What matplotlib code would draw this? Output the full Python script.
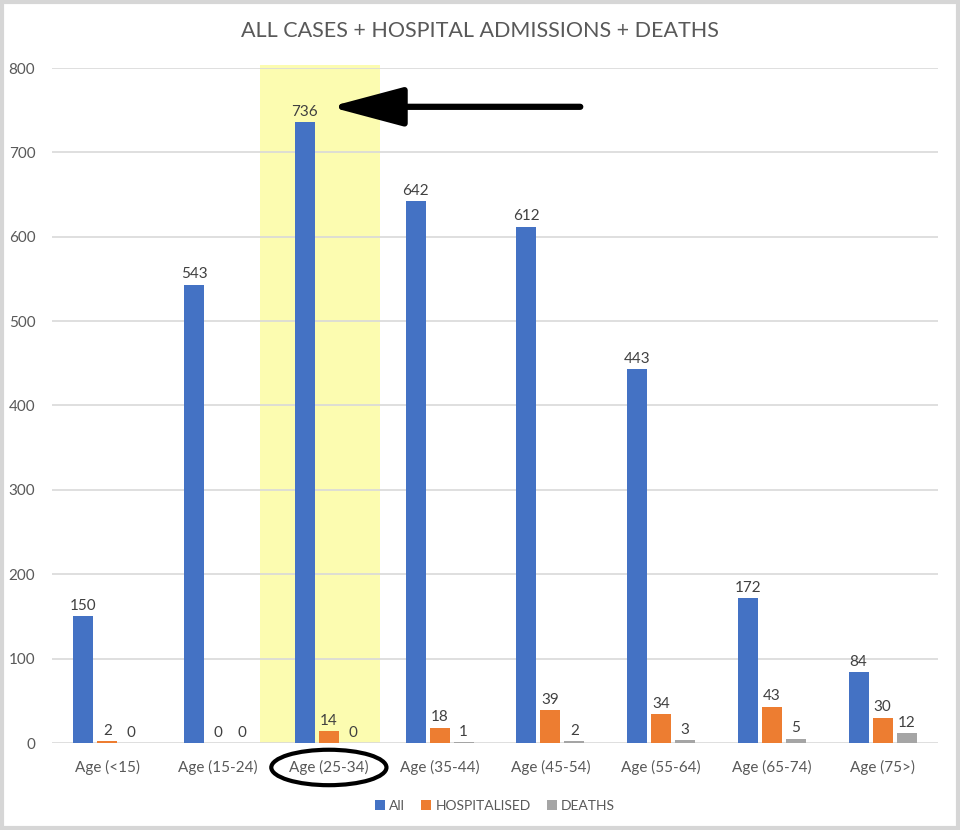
import matplotlib
matplotlib.use("Agg")
import matplotlib.pyplot as plt
from matplotlib.patches import Rectangle, Ellipse
import numpy as np

categories = ["Age (<15)", "Age (15-24)", "Age (25-34)", "Age (35-44)",
              "Age (45-54)", "Age (55-64)", "Age (65-74)", "Age (75>)"]
all_cases = [150, 543, 736, 642, 612, 443, 172, 84]
hospitalised = [2, 0, 14, 18, 39, 34, 43, 30]
deaths = [0, 0, 0, 1, 2, 3, 5, 12]
series_names = ["All", "HOSPITALISED", "DEATHS"]
yticks = [0, 100, 200, 300, 400, 500, 600, 700, 800]
title = "ALL CASES + HOSPITAL ADMISSIONS + DEATHS"

colors = ["#4472C4", "#ED7D31", "#A5A5A5"]
txt = "#595959"
plt.rcParams['font.family'] = ['Lato', 'DejaVu Sans']

fig = plt.figure(figsize=(9.6, 8.3), dpi=100)
ax = fig.add_axes([52/960, 87/830, 886/960, 675/830])

x = np.arange(len(categories))
w = 0.18
offs = [-0.217, 0, 0.217]

# highlight
ax.add_patch(Rectangle((1.378, 0), 1.084, 803.5, facecolor="#FCFCB0",
                       edgecolor="none", zorder=0.5, clip_on=False))

for s, (vals, off) in enumerate(zip([all_cases, hospitalised, deaths], offs)):
    ax.bar(x + off, vals, w, color=colors[s], label=series_names[s], zorder=2)
    for xi, v in zip(x + off, vals):
        ax.text(xi, v + 4, str(v), ha="center", va="bottom", fontsize=11,
                color="#404040", zorder=3)

ax.set_xlim(-0.5, len(categories) - 0.5)
ax.set_ylim(0, 800)
ax.set_yticks(yticks)
ax.set_yticklabels([str(t) for t in yticks], fontsize=11, color=txt)
ax.set_xticks(x)
ax.set_xticklabels(categories, fontsize=11, color=txt)
ax.tick_params(axis="both", length=0)
ax.tick_params(axis="y", pad=12)
ax.tick_params(axis="x", pad=12)
ax.grid(axis="y", color="#D9D9D9", linewidth=1.2, zorder=1)
ax.set_axisbelow(True)
for sp in ax.spines.values():
    sp.set_visible(False)

# arrow
ax.annotate("", xy=(2.01, 754), xytext=(4.27, 754),
            arrowprops=dict(arrowstyle="-|>,head_length=4.5,head_width=1.2",
                            color="black", lw=4.5, shrinkA=0, shrinkB=0),
            zorder=5, annotation_clip=False)

# ellipse around label
ax.add_patch(Ellipse((2.0, -29), 1.04, 42, angle=0, fill=False,
                     edgecolor="black", lw=3, clip_on=False, zorder=5))

fig.text(0.5, 1 - 31/830, title, ha="center", va="center", fontsize=15.5,
         color=txt)

ax.legend(loc="upper center", bbox_to_anchor=(0.5, -0.066), ncol=3,
          frameon=False, fontsize=10, handlelength=0.7, handleheight=0.7,
          columnspacing=1.2, handletextpad=0.3, labelcolor=txt)

fig.patches.append(Rectangle((0.002, 0.002), 0.996, 0.996, transform=fig.transFigure,
                             fill=False, edgecolor="#D6D6D6", lw=3))

fig.savefig("out.png", dpi=100)
